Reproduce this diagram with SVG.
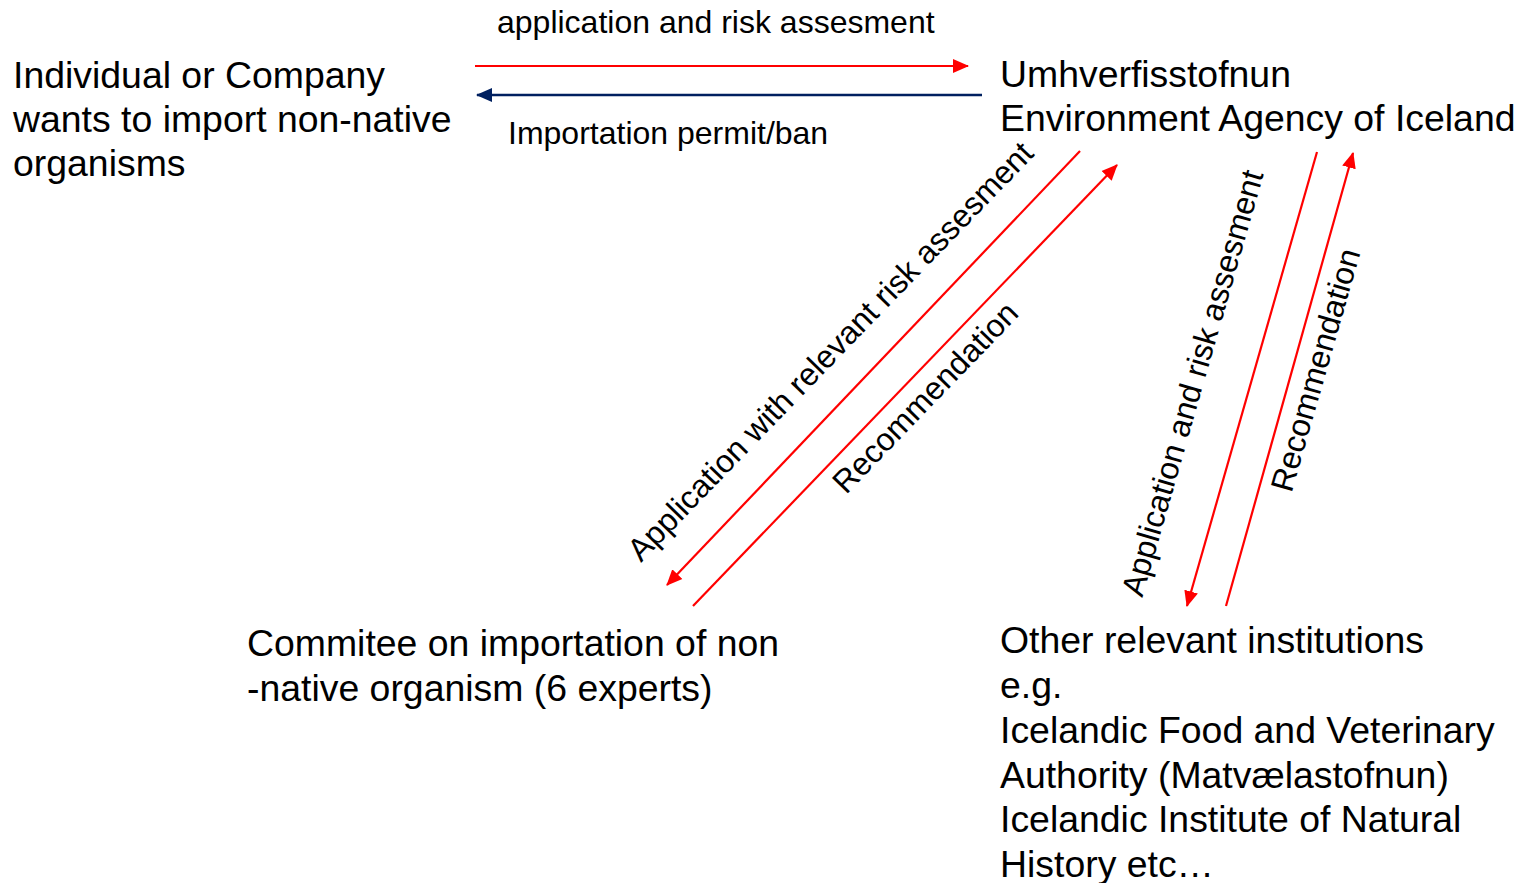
<svg xmlns="http://www.w3.org/2000/svg" width="1521" height="883" viewBox="0 0 1521 883">
<style>
.t{font-family:"Liberation Sans",Arial,sans-serif;font-size:37.4px;fill:#000}
.l{font-family:"Liberation Sans",Arial,sans-serif;font-size:32px;fill:#000}
.r{stroke:#ff0000;stroke-width:2.2;fill:none}
.b{stroke:#002060;stroke-width:2.4;fill:none}
</style>
<defs>
<marker id="ar" markerUnits="userSpaceOnUse" markerWidth="16" markerHeight="16" viewBox="0 0 16 16" refX="15" refY="8" orient="auto">
<path d="M0,1 L16,8 L0,15 Z" fill="#ff0000"/>
</marker>
<marker id="ab" markerUnits="userSpaceOnUse" markerWidth="16" markerHeight="16" viewBox="0 0 16 16" refX="15" refY="8" orient="auto">
<path d="M0,1 L16,8 L0,15 Z" fill="#002060"/>
</marker>
</defs>
<rect width="1521" height="883" fill="#fff"/>
<g id="applicant">
<text class="t" x="13" y="88">Individual or Company</text>
<text class="t" x="13" y="132">wants to import non-native</text>
<text class="t" x="13" y="176">organisms</text>
</g>
<g id="agency">
<text class="t" x="1000" y="87">Umhverfisstofnun</text>
<text class="t" x="1000" y="131">Environment Agency of Iceland</text>
</g>
<g id="committee">
<text class="t" x="247" y="656">Commitee on importation of non</text>
<text class="t" x="247" y="701">-native organism (6 experts)</text>
</g>
<g id="institutions">
<text class="t" x="1000" y="653">Other relevant institutions</text>
<text class="t" x="1000" y="698">e.g.</text>
<text class="t" x="1000" y="743">Icelandic Food and Veterinary</text>
<text class="t" x="1000" y="788">Authority (Matvælastofnun)</text>
<text class="t" x="1000" y="832">Icelandic Institute of Natural</text>
<text class="t" x="1000" y="877">History etc…</text>
</g>
<g id="connectors">
<line class="r" x1="475" y1="66" x2="968" y2="66" marker-end="url(#ar)"/>
<line class="b" x1="982" y1="95" x2="477" y2="95" marker-end="url(#ab)"/>
<line class="r" x1="1080" y1="151" x2="667" y2="585" marker-end="url(#ar)"/>
<line class="r" x1="693" y1="606" x2="1117" y2="165" marker-end="url(#ar)"/>
<line class="r" x1="1317" y1="152" x2="1187" y2="606" marker-end="url(#ar)"/>
<line class="r" x1="1226" y1="606" x2="1353" y2="153" marker-end="url(#ar)"/>
<text class="l" x="497" y="33">application and risk assesment</text>
<text class="l" x="508" y="144">Importation permit/ban</text>
<text class="l" text-anchor="middle" transform="translate(838,359) rotate(-46)">Application with relevant risk assesment</text>
<text class="l" text-anchor="middle" transform="translate(933,405) rotate(-46)">Recommendation</text>
<text class="l" text-anchor="middle" transform="translate(1203,386) rotate(-74)">Application and risk assesment</text>
<text class="l" text-anchor="middle" transform="translate(1326,373) rotate(-74)">Recommendation</text>
</g>
</svg>
